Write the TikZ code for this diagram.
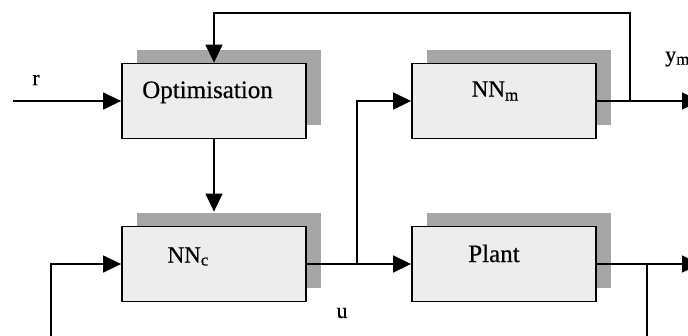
\documentclass[tikz,border=0pt]{standalone}
\usepackage{fontspec}
\setmainfont{Liberation Serif}
\newfontfamily\capfont[FakeBold=0.5]{Liberation Serif}
\usetikzlibrary{arrows.meta,shadows}

\definecolor{boxfill}{HTML}{EDEDED}
\definecolor{shadowgray}{HTML}{A6A6A6}

% lowered subscript in a fixed size
\newcommand{\lowsub}[2]{\raisebox{-#1}{\fontsize{17pt}{19pt}\selectfont #2}}

\tikzset{
  blk/.style={draw=black, line width=1.8pt, fill=boxfill,
    minimum width=184pt, minimum height=75pt, inner sep=0pt,
    general shadow={shadow xshift=15pt, shadow yshift=14pt, fill=shadowgray}},
  txt/.style={anchor=base, inner sep=0pt, font=\capfont\fontsize{25pt}{28pt}\selectfont},
  nntxt/.style={anchor=base, inner sep=0pt, font=\capfont\fontsize{23pt}{26pt}\selectfont},
  sig/.style={inner sep=0pt, font=\capfont\fontsize{22pt}{24pt}\selectfont},
  line/.style={line width=1.4pt},
  wire/.style={line width=1.4pt, -{Triangle[length=18pt,width=17pt]}}
}

\begin{document}
\begin{tikzpicture}[x=1pt,y=-1pt]
  \useasboundingbox (0,0) rectangle (688,335);

  % blocks
  \node[blk] (opt)   at (214,101) {};
  \node[blk] (nnm)   at (504,101) {};
  \node[blk] (nnc)   at (214,264) {};
  \node[blk] (plant) at (504,264) {};

  % block captions
  \node[txt]   (optT)   at (207.5,98)  {Optimisation};
  \node[nntxt] (nnmT)   at (495,96.5)  {NN\lowsub{4pt}{m}};
  \node[nntxt] (nncT)   at (188,262.5) {NN\lowsub{3pt}{c}};
  \node[txt]   (plantT) at (494,262)   {Plant};

  % signal labels
  \node[sig] (rL) at (36,80)  {r};
  \node[sig] (uL) at (342,313) {u};
  \node[sig, anchor=west] (ymL) at (665,59) {y\lowsub{3pt}{m}};

  % junctions and free ends
  \coordinate (rin)   at (13,101);
  \coordinate (u)     at (357,264);
  \coordinate (fbtap) at (630,101);
  \coordinate (fbtop) at (630,13);
  \coordinate (ymout) at (700,101);
  \coordinate (yout)  at (700,264);
  \coordinate (ptap)  at (647,264);
  \coordinate (pbot)  at (647,345);
  \coordinate (cbot)  at (51,345);

  % connectors
  \draw[wire] (rin) -- (opt.west);
  \draw[wire] (fbtap) -- (fbtop) -| (opt.north);
  \draw[wire] (opt.south) -- ([yshift=14pt]nnc.north);
  \draw[wire] (nnc.east) -- (plant.west);
  \draw[wire] (u) |- (nnm.west);
  \draw[wire] (nnm.east) -- (ymout);
  \draw[wire] (plant.east) -- (yout);
  \draw[line] (ptap) -- (pbot);
  \draw[wire] (cbot) |- (nnc.west);
\end{tikzpicture}
\end{document}
